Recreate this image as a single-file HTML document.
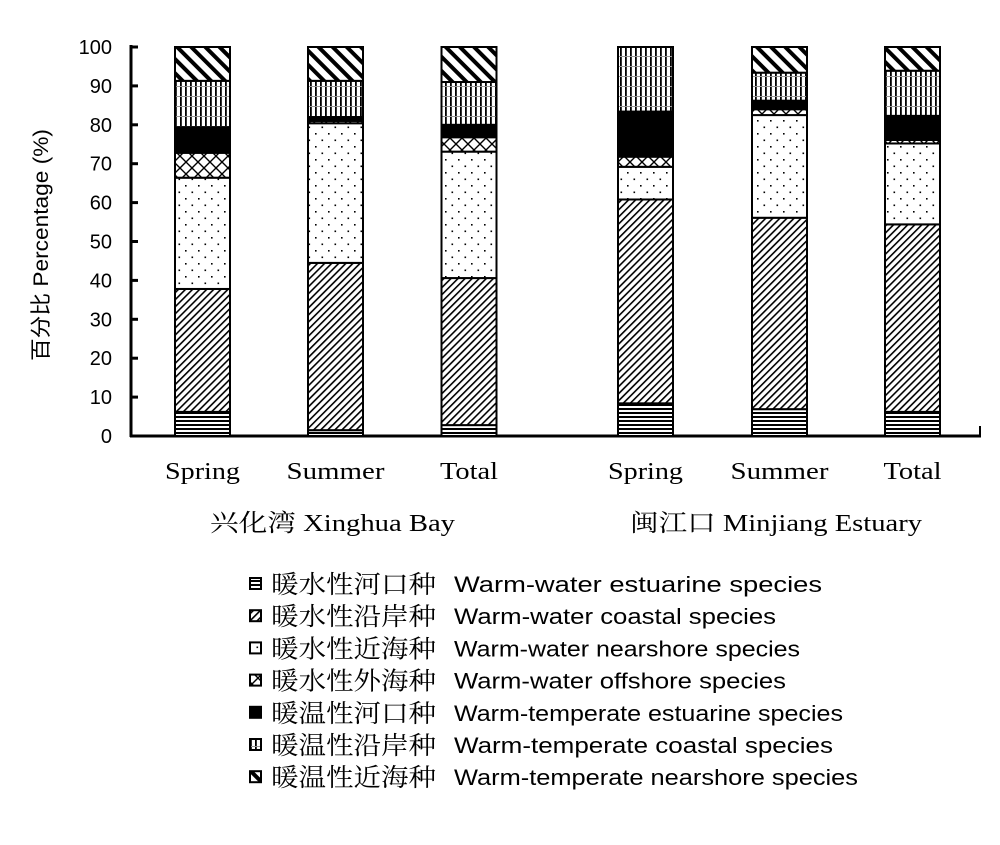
<!DOCTYPE html>
<html><head><meta charset="utf-8"><style>
body{margin:0;background:#fff}
svg text{font-family:"Liberation Serif","Noto Serif CJK SC",serif;fill:#000}
svg text.sans{font-family:"Liberation Sans","Noto Sans CJK SC",sans-serif}
</style></head><body>
<svg width="1000" height="840" viewBox="0 0 1000 840">
<defs>
<pattern id="p0" width="6" height="4" patternUnits="userSpaceOnUse"><rect width="6" height="4" fill="#fff"/><rect width="6" height="2" fill="#000"/></pattern>
<pattern id="p1" width="5" height="5" patternUnits="userSpaceOnUse" patternTransform="rotate(45)"><rect width="5" height="5" fill="#fff"/><rect width="1.6" height="5" fill="#000"/></pattern>
<pattern id="p2" width="13" height="13" patternUnits="userSpaceOnUse"><rect width="13" height="13" fill="#fff"/><rect x="3" y="3" width="1.6" height="1.6" fill="#000"/><rect x="9.5" y="9.5" width="1.6" height="1.6" fill="#000"/></pattern>
<pattern id="p3" width="12" height="12" patternUnits="userSpaceOnUse"><rect width="12" height="12" fill="#fff"/><path d="M0 0L12 12M12 0L0 12" stroke="#000" stroke-width="1.4"/></pattern>
<pattern id="p5" width="5" height="10" patternUnits="userSpaceOnUse"><rect width="5" height="10" fill="#fff"/><rect width="1.8" height="10" fill="#000"/><rect width="5" height="1" y="6" fill="#999"/></pattern>
<pattern id="p6" width="10" height="10" patternUnits="userSpaceOnUse" patternTransform="rotate(-45)"><rect width="10" height="10" fill="#fff"/><rect width="4" height="10" fill="#000"/></pattern>
</defs>
<g id="chart"></g>
</svg>
<script>
const categories=["Spring","Summer","Total","Spring","Summer","Total"];
const groups=["兴化湾 Xinghua Bay","闽江口 Minjiang Estuary"];
const warmEstuarine=[6.2,1.5,2.8,8.4,6.9,6.2];
const warmCoastal=[31.6,43.0,37.8,52.4,49.2,48.2];
const warmNearshore=[28.6,35.9,32.5,8.4,26.4,20.8];
const warmOffshore=[6.4,0.6,3.7,2.6,1.5,0.9];
const wtEstuarine=[6.6,1.0,3.2,11.6,2.2,6.2];
const wtCoastal=[11.9,9.3,11.0,16.6,7.2,11.6];
const wtNearshore=[8.7,8.7,9.0,0,6.6,6.1];
const yTicks=[0,10,20,30,40,50,60,70,80,90,100];
const series=[warmEstuarine,warmCoastal,warmNearshore,warmOffshore,wtEstuarine,wtCoastal,wtNearshore];
const fills=["url(#p0)","url(#p1)","url(#p2)","url(#p3)","#000","url(#p5)","url(#p6)"];
const legendCn=["暖水性河口种","暖水性沿岸种","暖水性近海种","暖水性外海种","暖温性河口种","暖温性沿岸种","暖温性近海种"];
const legendEn=["Warm-water estuarine species","Warm-water coastal species","Warm-water nearshore species","Warm-water offshore species","Warm-temperate estuarine species","Warm-temperate  coastal species","Warm-temperate  nearshore species"];
const legendEnLen=[368,322,346,332,389,379,404];
const catLen=[75,98,58,75,98,58];
const NS="http://www.w3.org/2000/svg";
const g=document.getElementById('chart');
function mk(t,a,p){const e=document.createElementNS(NS,t);for(const k in a)e.setAttribute(k,a[k]);(p||g).appendChild(e);return e;}
const y0=436,yTop=47;
function y(v){return y0-(v/100)*(y0-yTop);}
const xCenters=[202.5,335.5,469,645.5,779.5,912.5];
function x(i){return xCenters[i];}
const bw=55;
let ax=mk('line',{x1:131,y1:45,x2:131,y2:437,stroke:'#000','stroke-width':3});


let bx=mk('line',{x1:130,y1:436,x2:981,y2:436,stroke:'#000','stroke-width':3});


mk('line',{x1:980,y1:426,x2:980,y2:437,stroke:'#000','stroke-width':2});
yTicks.forEach(v=>{
  mk('line',{x1:131,y1:y(v),x2:138,y2:y(v),stroke:'#000','stroke-width':3});
  const t=mk('text',{x:112,y:y(v)+7,'text-anchor':'end','font-size':20,'class':'sans'});
  t.textContent=v;
  
  
});
const yt=mk('text',{x:0,y:0,'text-anchor':'middle','font-size':21,'class':'sans',textLength:232,lengthAdjust:'spacingAndGlyphs',transform:'translate(48,245) rotate(-90)'});
yt.textContent='百分比 Percentage (%)';


categories.forEach((c,i)=>{
  let cum=0;
  series.forEach((s,k)=>{
    const v=s[i];
    if(v>0){
      const r=mk('rect',{x:x(i)-bw/2,y:y(cum+v),width:bw,height:y(cum)-y(cum+v),fill:fills[k],stroke:'#000','stroke-width':2});
      
      
    }
    cum+=v;
  });
  const t=mk('text',{x:x(i),y:479,'text-anchor':'middle','font-size':24,textLength:catLen[i],lengthAdjust:'spacingAndGlyphs'});
  t.textContent=c;
  
  
});
[[332.5,245],[776,292]].forEach((p,j)=>{
  const t=mk('text',{x:p[0],y:531,'text-anchor':'middle','font-size':24,textLength:p[1],lengthAdjust:'spacingAndGlyphs'});
  t.textContent=groups[j];
  
  
});
legendCn.forEach((c,k)=>{
  const ly=584+k*32.2;
  const lg=mk('g',{});
  
  
  mk('rect',{x:250,y:ly-6,width:11,height:11,fill:fills[k],stroke:'#000','stroke-width':2},lg);
  const t1=mk('text',{x:271,y:ly+9,'font-size':25,textLength:165,lengthAdjust:'spacingAndGlyphs'},lg);t1.textContent=c;
  const t2=mk('text',{x:454,y:ly+8,'font-size':22,'class':'sans',textLength:legendEnLen[k],lengthAdjust:'spacingAndGlyphs'},lg);t2.textContent=legendEn[k];
});
</script>
</body></html>
